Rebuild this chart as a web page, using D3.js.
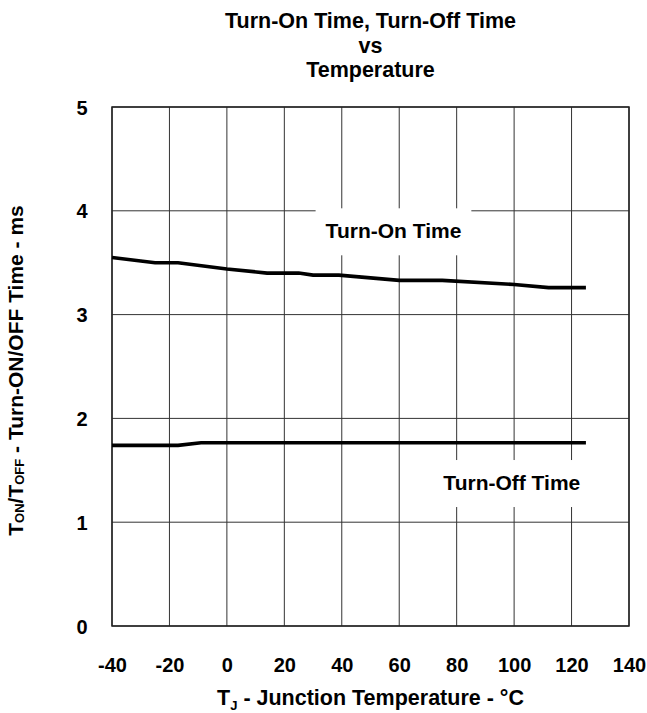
<!DOCTYPE html>
<html>
<head>
<meta charset="utf-8">
<script src="https://cdn.jsdelivr.net/npm/d3@7/dist/d3.min.js"></script>
<style>
  body { margin: 0; background: #fff; }
  text { font-family: "Liberation Sans", Arial, sans-serif; font-weight: bold; fill: #000; }
</style>
</head>
<body>
<svg id="chart" width="647" height="713"></svg>
<script>
// Turn-On / Turn-Off time vs junction temperature

const tempTicks = [-40, -20, 0, 20, 40, 60, 80, 100, 120, 140];
const timeTicks = [0, 1, 2, 3, 4, 5];

const turnOnTemp = [-40, -25, -17, 0, 14, 25, 30, 39, 60, 75, 100, 112, 125];
const turnOnTime = [3.55, 3.50, 3.50, 3.44, 3.40, 3.40, 3.38, 3.38, 3.33, 3.33, 3.29, 3.26, 3.26];

const turnOffTemp = [-40, -17, -9, 125];
const turnOffTime = [1.74, 1.74, 1.765, 1.765];

const titleLines = ['Turn-On Time, Turn-Off Time', 'vs', 'Temperature'];
const seriesNames = ['Turn-On Time', 'Turn-Off Time'];

// --- layout ---
const svg = d3.select('#chart');
const plot = { left: 112, right: 629, top: 107, bottom: 626 };

const x = d3.scaleLinear().domain([-40, 140]).range([plot.left, plot.right]);
const y = d3.scaleLinear().domain([0, 5]).range([plot.bottom, plot.top]);

// --- grid ---
const grid = svg.append('g');
grid.selectAll('line.v').data(tempTicks).join('line')
  .attr('class', 'v')
  .attr('x1', d => x(d)).attr('x2', d => x(d))
  .attr('y1', plot.top).attr('y2', plot.bottom)
  .attr('stroke', '#333').attr('stroke-width', 1);
grid.selectAll('line.h').data(timeTicks).join('line')
  .attr('class', 'h')
  .attr('x1', plot.left).attr('x2', plot.right)
  .attr('y1', d => y(d)).attr('y2', d => y(d))
  .attr('stroke', '#333').attr('stroke-width', 1);

svg.append('rect')
  .attr('x', plot.left).attr('y', plot.top)
  .attr('width', plot.right - plot.left).attr('height', plot.bottom - plot.top)
  .attr('fill', 'none').attr('stroke', '#222').attr('stroke-width', 1.5);

// --- series ---
const line = d3.line().x(d => x(d[0])).y(d => y(d[1]));
const series = [
  d3.zip(turnOnTemp, turnOnTime),
  d3.zip(turnOffTemp, turnOffTime)
];
svg.append('g').selectAll('path').data(series).join('path')
  .attr('d', line)
  .attr('fill', 'none')
  .attr('stroke', '#000')
  .attr('stroke-width', 3.6);

// --- in-plot labels with white boxes ---
const labelAt = [
  { tx: 58, ty: 3.735 },
  { tx: 99.2, ty: 1.31 }
];
seriesNames.forEach((name, i) => {
  const g = svg.append('g');
  const rect = g.append('rect').attr('fill', '#fff');
  const t = g.append('text')
    .attr('x', x(labelAt[i].tx)).attr('y', y(labelAt[i].ty))
    .attr('text-anchor', 'middle')
    .attr('font-size', 21)
    .text(name);
  const bb = t.node().getBBox();
  rect.attr('x', bb.x - 10).attr('y', bb.y - 11)
    .attr('width', bb.width + 20).attr('height', bb.height + 24);
});

// --- axes ---
const xAxis = svg.append('g')
  .attr('transform', `translate(0,${plot.bottom})`)
  .call(d3.axisBottom(x).tickValues(tempTicks).tickSize(0).tickFormat(d => String(d)));
xAxis.select('.domain').remove();
xAxis.selectAll('text')
  .attr('y', 46).attr('dy', null)
  .attr('fill', '#000');

const yAxis = svg.append('g')
  .attr('transform', `translate(${plot.left},0)`)
  .call(d3.axisLeft(y).tickValues(timeTicks).tickSize(0).tickFormat(d => String(d)));
yAxis.select('.domain').remove();
yAxis.selectAll('text')
  .attr('x', -30).attr('dy', '0.35em')
  .attr('text-anchor', 'middle')
  .attr('fill', '#000');
[xAxis, yAxis].forEach(a => a.attr('font-family', null).attr('font-size', 20));

// --- title ---
const cx = (plot.left + plot.right) / 2;
const titleY = [28, 53, 77];
svg.append('g').selectAll('text').data(titleLines).join('text')
  .attr('x', cx).attr('y', (d, i) => titleY[i])
  .attr('text-anchor', 'middle')
  .attr('font-size', 21.5)
  .text(d => d);

// --- axis titles ---
const xt = svg.append('text')
  .attr('x', cx).attr('y', 705)
  .attr('text-anchor', 'middle')
  .attr('font-size', 21.5);
xt.append('tspan').text('T');
xt.append('tspan').attr('font-size', 13).attr('dy', 5).text('J');
xt.append('tspan').attr('dy', -5).text(' - Junction Temperature - °C');

const yt = svg.append('text')
  .attr('transform', `translate(23,${(plot.top + plot.bottom) / 2 + 4}) rotate(-90)`)
  .attr('text-anchor', 'middle')
  .attr('font-size', 21);
yt.append('tspan').text('T');
yt.append('tspan').attr('font-size', 13).attr('dy', 1).text('ON');
yt.append('tspan').attr('dy', -1).text('/T');
yt.append('tspan').attr('font-size', 13).attr('dy', 1).text('OFF');
yt.append('tspan').attr('dy', -1).text(' - Turn-ON/OFF Time - ms');
</script>
</body>
</html>
